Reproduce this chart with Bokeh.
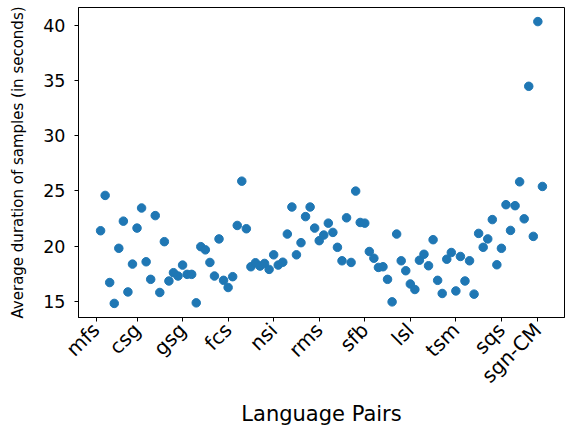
import math
from bokeh.plotting import figure
from bokeh.models import Range1d, FixedTicker
from bokeh.embed import file_html
from bokeh.resources import INLINE

# ---- data ----
sample_index = list(range(1, 99))
avg_duration = [
    21.40, 24.60, 16.71, 14.82, 19.81, 22.27, 15.86, 18.38, 21.64, 23.46,
    18.59, 17.00, 22.77, 15.81, 20.41, 16.85, 17.60, 17.30, 18.29, 17.45,
    17.45, 14.87, 19.96, 19.67, 18.53, 17.30, 20.66, 16.91, 16.26, 17.24,
    21.88, 25.89, 21.58, 18.14, 18.50, 18.20, 18.44, 17.90, 19.22, 18.29,
    18.55, 21.10, 23.55, 19.22, 20.32, 22.68, 23.55, 21.64, 20.50, 21.01,
    22.09, 21.25, 19.90, 18.68, 22.57, 18.53, 24.99, 22.15, 22.09, 19.52,
    18.91, 18.08, 18.14, 17.00, 14.96, 21.10, 18.68, 17.78, 16.58, 16.08,
    18.73, 19.27, 18.23, 20.59, 16.91, 15.72, 18.82, 19.43, 15.95, 19.07,
    16.85, 18.68, 15.66, 21.16, 19.90, 20.66, 22.41, 18.32, 19.81, 23.76,
    21.43, 23.67, 25.83, 22.48, 34.48, 20.89, 40.34, 25.41,
]
tick_positions = [0, 9, 19, 29, 39, 49, 59, 69, 79, 89, 97]
tick_labels = ["mfs", "csg", "gsg", "fcs", "nsi", "rms", "sfb", "lsl", "tsm", "sqs", "sgn-CM"]
y_ticks = [15, 20, 25, 30, 35, 40]

# ---- ranges with matplotlib-like 5% margins ----
xmin, xmax = min(sample_index), max(sample_index)
ymin, ymax = min(avg_duration), max(avg_duration)
xm = 0.05 * (xmax - xmin)
ym = 0.05 * (ymax - ymin)

FONT = "DejaVu Sans"

p = figure(width=572, height=428, output_backend="svg", toolbar_location=None,
           x_range=Range1d(xmin - xm, xmax + xm), y_range=Range1d(ymin - ym, ymax + ym),
           min_border_left=78, min_border_right=8, min_border_top=7, min_border_bottom=107)
p.background_fill_color = "white"
p.border_fill_color = "white"
p.outline_line_color = "black"
p.outline_line_width = 1
p.grid.visible = False

p.scatter(x=sample_index, y=avg_duration, size=8.5, fill_color="#1f77b4", line_color="#1f77b4")

# x axis
p.xaxis.ticker = FixedTicker(ticks=tick_positions)
p.xaxis.major_label_overrides = {t: l for t, l in zip(tick_positions, tick_labels)}
p.xaxis.major_label_orientation = math.pi / 4
p.xaxis.major_label_text_font_size = "20px"
p.xaxis.major_label_standoff = 5
p.xaxis.axis_label = "Language Pairs"
p.xaxis.axis_label_text_font_size = "21px"
p.xaxis.axis_label_standoff = 3

# y axis
p.yaxis.ticker = FixedTicker(ticks=y_ticks)
p.yaxis.major_label_text_font_size = "17.5px"
p.yaxis.axis_label = "Average duration of samples (in seconds)"
p.yaxis.axis_label_text_font_size = "15px"
p.yaxis.axis_label_standoff = 13
p.yaxis.major_label_standoff = 9

for ax in (p.xaxis, p.yaxis):
    ax.major_label_text_font = FONT
    ax.major_label_text_color = "black"
    ax.axis_label_text_font = FONT
    ax.axis_label_text_font_style = "normal"
    ax.axis_label_text_color = "black"
    ax.major_tick_out = 4
    ax.major_tick_in = 0
    ax.minor_tick_out = 0
    ax.minor_tick_in = 0
    ax.major_tick_line_color = "black"
    ax.axis_line_color = "black"

open("out.html", "w").write(file_html(p, INLINE))
